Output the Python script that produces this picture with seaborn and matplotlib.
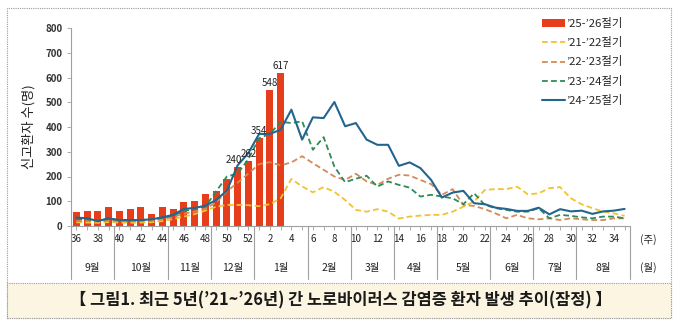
import numpy as np
import pandas as pd
import matplotlib
matplotlib.use("Agg")
import matplotlib.pyplot as plt
import matplotlib.transforms as mtransforms
from matplotlib.patches import Rectangle, Patch
from matplotlib.lines import Line2D
import seaborn as sns

# ---------------- data ----------------
weeks = [str(w) for w in list(range(36, 53)) + list(range(1, 36))]
bar_weeks = weeks[:20]
bar_values = [57, 61, 62, 77, 59, 69, 76, 47, 78, 70, 96, 100, 128, 143, 190,
              240, 262, 354, 548, 617]
labeled_weeks = ["51", "52", "1", "2", "3"]

s_21_22 = [15, 14, 13, 16, 14, 13, 14, 15, 20, 28, 38, 48, 62, 78, 85, 85, 84,
           80, 88, 112, 190, 160, 136, 157, 138, 105, 65,
           58, 68, 58, 30, 38, 42, 45, 45, 58, 78,
           99, 146, 149, 149, 159, 128, 132, 153, 157, 112,
           88, 72, 58, 51, 41]
s_22_23 = [20, 20, 18, 22, 20, 19, 21, 22, 28, 36, 50, 58, 70, 95, 140, 175, 212,
           250, 258, 245, 257, 282, 254, 227, 200, 186, 211,
           180, 166, 191, 207, 204, 186, 169, 126, 149, 85,
           81, 68, 51, 31, 45, 31, 27, 31, 24, 31,
           27, 24, 24, 31, 31]
s_23_24 = [28, 27, 22, 28, 24, 23, 25, 27, 33, 42, 60, 70, 78, 140, 200, 212, 270,
           355, 372, 421, 416, 423, 308, 359, 240, 177, 191,
           203, 159, 180, 166, 155, 119, 126, 119, 112, 88,
           132, 85, 72, 65, 58, 58, 72, 31, 45, 41,
           35, 31, 38, 38, 31]
s_24_25 = [34, 31, 20, 31, 24, 24, 24, 27, 35, 45, 69, 73, 82, 105, 143, 245, 295,
           372, 372, 389, 470, 349, 439, 436, 501, 403, 416,
           349, 328, 328, 243, 257, 234, 186, 115, 135, 142,
           92, 88, 74, 69, 61, 61, 74, 47, 68, 59,
           62, 49, 59, 62, 69]

month_names = ["9월", "10월", "11월", "12월", "1월", "2월", "3월", "4월",
               "5월", "6월", "7월", "8월"]
month_weeks = [4, 5, 4, 4, 5, 4, 4, 4, 5, 4, 4, 5]

series_names = ["’21-’22절기", "’22-’23절기", "’23-’24절기", "’24-’25절기"]
bar_name = "’25-’26절기"

# ---------------- style ----------------
sns.set_theme(style="white")
plt.rcParams["font.family"] = ["Noto Sans CJK KR", "DejaVu Sans"]

C_BAR = "#E63E1A"
C_Y = "#F2C230"
C_BR = "#D48A58"
C_G = "#2E8B57"
C_B = "#23658F"
AX_C = "#A0A0A0"

fig = plt.figure(figsize=(6.8, 3.25), dpi=100)
W, H = 680, 325

# frames
fig.patches.append(Rectangle((7 / W, 1 - 318 / H), 664 / W, 310 / H,
                             transform=fig.transFigure, fill=False,
                             edgecolor="#9A9A9A", lw=0.8, ls=(0, (1, 1)), zorder=0))
fig.patches.append(Rectangle((7 / W, 1 - 318 / H), 664 / W, 35 / H,
                             transform=fig.transFigure, facecolor="#FBF5E2",
                             edgecolor="#9A9A9A", lw=0.8, ls=(0, (1, 1)), zorder=0))

ax = fig.add_axes([71 / W, 1 - 226 / H, 559 / W, 198 / H])
ax.set_facecolor("none")

bars_df = pd.DataFrame({"week": bar_weeks, "value": bar_values})
sns.barplot(data=bars_df, x="week", y="value", order=weeks, color=C_BAR,
            saturation=1, width=0.64, edgecolor="none", linewidth=0,
            ax=ax, zorder=2)

line_df = pd.DataFrame({"week": weeks, "s1": s_21_22, "s2": s_22_23,
                        "s3": s_23_24, "s4": s_24_25})
styles = [("s1", C_Y, (0, (3.2, 1.8)), 1.3),
          ("s2", C_BR, (0, (3.2, 1.8)), 1.3),
          ("s3", C_G, (0, (3.2, 1.8)), 1.3),
          ("s4", C_B, "-", 1.5)]
for col, c, ls, lw in styles:
    sns.lineplot(data=line_df, x="week", y=col, sort=False, color=c,
                 linestyle=ls, linewidth=lw, ax=ax, zorder=3)

# data labels
for p, wk in zip(ax.patches, bar_weeks):
    if wk in labeled_weeks:
        v = bars_df.loc[bars_df.week == wk, "value"].iloc[0]
        dx = -3 if wk == "51" else 0
        ax.annotate(f"{v}", (p.get_x() + p.get_width() / 2, p.get_height()),
                    xytext=(dx, 1.5), textcoords="offset points", ha="center",
                    va="bottom", fontsize=7, color="#222222", zorder=5)

ax.set_ylim(0, 800)
ax.set_xlim(-0.5, len(weeks) - 0.5)
ax.set_yticks(range(0, 801, 100))
ax.tick_params(axis="y", labelsize=7, colors="#333333", length=3, width=0.6,
               color=AX_C, pad=3, left=True)
for t in ax.get_yticklabels():
    t.set_fontweight("bold")
ax.set_xticks(range(len(weeks)))
ax.set_xticklabels([w if int(w) % 2 == 0 else "" for w in weeks])
ax.tick_params(axis="x", labelsize=7, colors="#222222", length=3, width=0.6,
               color=AX_C, pad=3, bottom=True)
ax.set_xlabel("")
ax.set_ylabel("신고환자 수(명)", fontsize=9.5, color="#222222", labelpad=7)
for s in ["top", "right"]:
    ax.spines[s].set_visible(False)
for s in ["left", "bottom"]:
    ax.spines[s].set_color(AX_C)
    ax.spines[s].set_linewidth(0.8)

# month separators and labels
trans = mtransforms.blended_transform_factory(ax.transData, ax.transAxes)
edges = np.concatenate([[0], np.cumsum(month_weeks)]) - 0.5
for e in edges:
    ax.plot([e, e], [0, -0.27], transform=trans, color=AX_C, lw=0.8,
            clip_on=False)
for name, a, b in zip(month_names, edges[:-1], edges[1:]):
    ax.text((a + b) / 2, -0.21, name, transform=trans, ha="center",
            va="center", fontsize=7.5, color="#222222")

fig.text(648 / W, 1 - 240 / H, "(주)", ha="center", va="center", fontsize=7.5,
         color="#222222")
fig.text(648 / W, 1 - 267 / H, "(월)", ha="center", va="center", fontsize=7.5,
         color="#222222")

# legend
handles = [Patch(facecolor=C_BAR, edgecolor="none"),
           Line2D([], [], color=C_Y, ls=(0, (3.2, 1.8)), lw=1.3),
           Line2D([], [], color=C_BR, ls=(0, (3.2, 1.8)), lw=1.3),
           Line2D([], [], color=C_G, ls=(0, (3.2, 1.8)), lw=1.3),
           Line2D([], [], color=C_B, ls="-", lw=1.5)]
labels = [bar_name] + series_names
fig.legend(handles, labels, loc="upper left",
           bbox_to_anchor=(542 / W, 1 - 18 / H), frameon=False, fontsize=8.2,
           handlelength=2.0, handleheight=0.6, handletextpad=0.15,
           labelspacing=0.72, borderaxespad=0, borderpad=0)

# caption
fig.text(341 / W, 1 - 300 / H,
         "【 그림1. 최근 5년(’21~’26년) 간 노로바이러스 감염증 환자 발생 추이(잠정) 】",
         ha="center", va="center", fontsize=11.8, fontweight="bold",
         color="#1A1A1A")

fig.savefig("out.png", dpi=100)
